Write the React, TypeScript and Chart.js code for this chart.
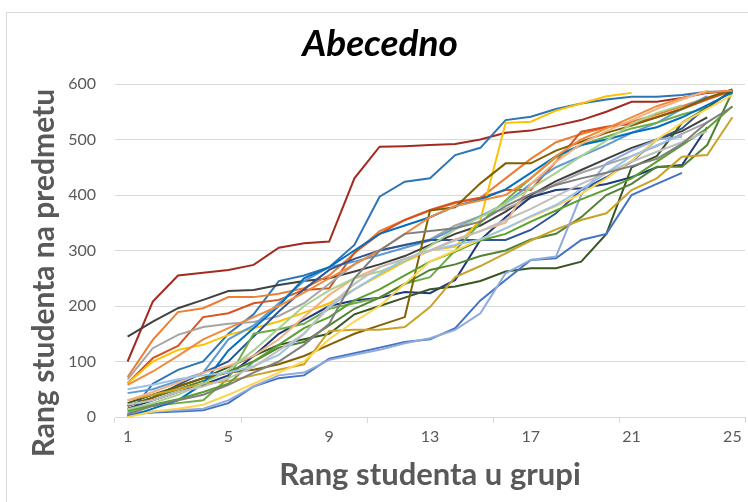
import React, { useEffect, useRef } from 'react';
import { Chart, registerables } from 'chart.js';

Chart.register(...registerables);

const categories = ['1', '2', '3', '4', '5', '6', '7', '8', '9', '10', '11', '12', '13', '14', '15', '16', '17', '18', '19', '20', '21', '22', '23', '24', '25'];
const shownTicks = ['1', '5', '9', '13', '17', '21', '25'];
const yTicks = [0, 100, 200, 300, 400, 500, 600];

const gray2 = [5, 20, 30, 40, 58, 80, 100, 130, 168, 250, 300, 330, 335, 340, 352, 380, 402, 418, 430, 440, 452, 465, 492, 531, 559];
const lightGray = [22, 30, 45, 55, 70, 90, 120, 150, 200, 240, 270, 285, 300, 318, 335, 355, 375, 398, 420, 440, 460, 478, 495, 515];
const paleBlue = [50, 58, 68, 75, 80, 92, 112, 150, 198, 230, 258, 285, 300, 310, 320, 340, 362, 382, 410, 440, 470, 490, 508];
const lightGreen = [14, 25, 40, 60, 85, 120, 160, 200, 228, 250, 262, 280, 308, 338, 360, 385, 412, 440, 470, 498, 528, 548, 562];
const yellow2 = [0, 10, 15, 22, 40, 60, 80, 100, 140, 172, 200, 240, 280, 300, 320, 340, 360, 380, 402, 430, 462, 500, 530, 555, 580];
const green3 = [12, 22, 32, 45, 60, 100, 130, 160, 180, 210, 230, 255, 280, 298, 318, 330, 352, 372, 392, 410, 430, 460, 490, 520, 560];
const lightOrange = [30, 45, 62, 80, 92, 110, 140, 180, 220, 250, 270, 285, 300, 320, 335, 350, 420, 460, 492, 515, 535, 555, 572, 588];
const orange2 = [58, 82, 110, 140, 160, 180, 200, 224, 250, 275, 300, 330, 360, 380, 390, 400, 430, 470, 500, 520, 540, 560, 575, 585, 588];
const blue3 = [0, 15, 30, 60, 120, 160, 200, 250, 270, 300, 330, 345, 360, 380, 392, 410, 440, 470, 490, 500, 512, 522, 540, 562, 585];
const cornflower = [7, 10, 12, 15, 30, 55, 75, 80, 103, 112, 121, 133, 142, 157, 187, 259, 283, 289, 400, 457, 480, 500, 505];
const medBlue = [4, 8, 10, 12, 25, 55, 70, 75, 105, 115, 125, 135, 140, 160, 210, 247, 283, 286, 319, 330, 400, 420, 440];
const gold = [30, 40, 50, 60, 65, 75, 85, 95, 155, 157, 157, 162, 198, 252, 272, 295, 318, 338, 355, 367, 409, 430, 469, 472, 540];
const brown = [20, 35, 55, 70, 80, 85, 95, 110, 130, 150, 165, 180, 372, 378, 421, 457, 457, 480, 496, 512, 525, 540, 555, 575, 590];
const darkGreen2 = [20, 35, 50, 65, 82, 100, 125, 135, 165, 195, 215, 240, 265, 275, 290, 300, 320, 330, 360, 400, 420, 451, 451, 490, 586];
const darkGreen = [25, 40, 55, 70, 90, 110, 130, 140, 150, 185, 200, 215, 230, 235, 245, 262, 268, 268, 280, 330, 450, 470, 530, 557, 589];
const green = [10, 20, 25, 30, 70, 150, 158, 168, 195, 205, 215, 240, 252, 300, 350, 390, 430, 468, 490, 505, 520, 530, 545, 557];
const darkBlue = [20, 35, 58, 80, 100, 145, 190, 230, 265, 285, 300, 310, 319, 319, 319, 319, 337, 367, 409, 432, 460, 500, 520, 560];
const navy = [15, 30, 45, 58, 75, 110, 150, 175, 200, 210, 215, 225, 223, 247, 319, 360, 396, 409, 412, 420, 432, 450, 454, 522];
const lightBlue = [43, 50, 65, 80, 140, 165, 205, 245, 270, 280, 292, 305, 318, 340, 362, 385, 420, 450, 470, 490, 512, 530, 555, 578];
const yellow = [61, 100, 121, 130, 148, 160, 172, 188, 205, 230, 255, 280, 300, 307, 355, 530, 532, 552, 565, 578, 584];
const grayA = [68, 124, 148, 162, 168, 171, 182, 205, 240, 275, 300, 310, 320, 345, 362, 375, 395, 420, 440, 455, 470, 488, 510, 531];
const redOrange = [61, 106, 128, 180, 187, 205, 211, 229, 232, 296, 330, 355, 373, 387, 395, 409, 409, 460, 514, 523, 528, 540, 555, 572, 588];
const orange = [72, 139, 189, 196, 216, 216, 222, 232, 255, 295, 335, 355, 372, 385, 395, 430, 465, 495, 510, 522, 532, 545, 560, 575, 590];
const black = [145, 172, 196, 211, 227, 229, 238, 245, 250, 262, 275, 290, 310, 330, 345, 370, 400, 425, 445, 465, 485, 500, 515, 540];
const blue = [2, 60, 85, 100, 150, 185, 245, 255, 270, 310, 397, 424, 430, 472, 485, 535, 541, 555, 565, 572, 577, 577, 580, 586, 586];
const darkRed = [100, 208, 255, 260, 265, 274, 305, 313, 316, 430, 487, 488, 490, 492, 500, 512, 516, 525, 535, 550, 568, 568, 575, 584, 588];

const seriesList: { values: number[]; color: string }[] = [
  { values: gray2, color: '#7F7F7F' },
  { values: lightGray, color: '#BFBFBF' },
  { values: paleBlue, color: '#9DC3E6' },
  { values: lightGreen, color: '#A9D18E' },
  { values: yellow2, color: '#FFD54F' },
  { values: green3, color: '#5AA02C' },
  { values: lightOrange, color: '#F4B183' },
  { values: orange2, color: '#F08A3C' },
  { values: blue3, color: '#0070C0' },
  { values: cornflower, color: '#8FAADC' },
  { values: medBlue, color: '#4472C4' },
  { values: gold, color: '#C9A227' },
  { values: brown, color: '#806000' },
  { values: darkGreen2, color: '#548235' },
  { values: darkGreen, color: '#375623' },
  { values: green, color: '#70AD47' },
  { values: darkBlue, color: '#2F5597' },
  { values: navy, color: '#1F3A7A' },
  { values: lightBlue, color: '#5B9BD5' },
  { values: yellow, color: '#FFC000' },
  { values: grayA, color: '#A5A5A5' },
  { values: redOrange, color: '#D9531E' },
  { values: orange, color: '#ED7D31' },
  { values: black, color: '#404040' },
  { values: blue, color: '#2E75B6' },
  { values: darkRed, color: '#A32A1E' },
];

const FONT = 'Lato';
const yTitleText = 'Rang studenta na predmetu';

const yTitlePlugin = {
  id: 'yTitleOffset',
  afterDraw(chart: any) {
    const ctx = chart.ctx;
    ctx.save();
    ctx.translate(44, 273);
    ctx.rotate(-Math.PI / 2);
    ctx.font = `bold 30px ${FONT}`;
    ctx.fillStyle = '#595959';
    ctx.textAlign = 'center';
    ctx.textBaseline = 'middle';
    ctx.fillText(yTitleText, 0, 0);
    ctx.restore();
  },
};

export default function App() {
  const ref = useRef<HTMLCanvasElement>(null);
  useEffect(() => {
    if (!ref.current) return;
    const chart = new Chart(ref.current, {
      type: 'line',
      data: {
        labels: categories,
        datasets: seriesList.map((s, i) => ({
          label: 'S' + (i + 1),
          data: s.values,
          borderColor: s.color,
          backgroundColor: s.color,
          borderWidth: 2,
          pointRadius: 0,
          tension: 0,
          fill: false,
        })),
      },
      options: {
        responsive: false,
        animation: false,
        layout: { padding: { top: 12, left: 15, right: 3, bottom: 0 } },
        plugins: {
          legend: { display: false },
          tooltip: { enabled: false },
          title: {
            display: true,
            text: 'Abecedno',
            color: '#000000',
            font: { family: FONT, size: 37, weight: 'bold', style: 'italic', lineHeight: 1.2 },
            padding: { top: 10, bottom: 17.6 },
          },
        },
        scales: {
          x: {
            type: 'category',
            offset: true,
            grid: {
              offset: true,
              drawOnChartArea: false,
              drawTicks: true,
              tickLength: 6,
              color: (c: any) => (c.index === undefined || c.index % 5 === 0 ? '#D9D9D9' : 'rgba(0,0,0,0)'),
              tickColor: (c: any) => (c.index === undefined || c.index % 5 === 0 ? '#D9D9D9' : 'rgba(0,0,0,0)'),
            },
            border: { display: true, color: '#D9D9D9', width: 1 },
            ticks: {
              autoSkip: false,
              maxRotation: 0,
              padding: 4,
              color: '#595959',
              font: { family: FONT, size: 16 },
              callback: (_v: any, i: number) => (shownTicks.includes(categories[i]) ? categories[i] : ''),
            },
            title: {
              display: true,
              text: 'Rang studenta u grupi',
              color: '#595959',
              font: { family: FONT, size: 31, weight: 'bold', lineHeight: 1.2 },
              padding: { top: 0, bottom: 8 },
            },
            afterFit: (s: any) => {
              s.height = 85;
            },
          },
          y: {
            min: 0,
            max: 600,
            afterBuildTicks: (s: any) => {
              s.ticks = yTicks.map((v) => ({ value: v }));
            },
            grid: { color: '#D9D9D9', drawTicks: false, lineWidth: 1 },
            border: { display: false },
            ticks: {
              padding: 19,
              color: '#595959',
              font: { family: FONT, size: 16 },
            },
            afterFit: (s: any) => {
              s.width = 100;
            },
          },
        },
      },
      plugins: [yTitlePlugin],
    });
    return () => chart.destroy();
  }, []);

  return (
    <div style={{ position: 'fixed', left: 0, top: 0, width: 748, height: 502, background: '#ffffff', overflow: 'hidden' }}>
      <div
        style={{
          position: 'absolute',
          left: 6,
          top: 12,
          width: 800,
          height: 600,
          border: '1px solid #D9D9D9',
          boxSizing: 'border-box',
        }}
      />
      <canvas ref={ref} width={748} height={502} style={{ position: 'absolute', left: 0, top: 0, width: 748, height: 502 }} />
    </div>
  );
}
